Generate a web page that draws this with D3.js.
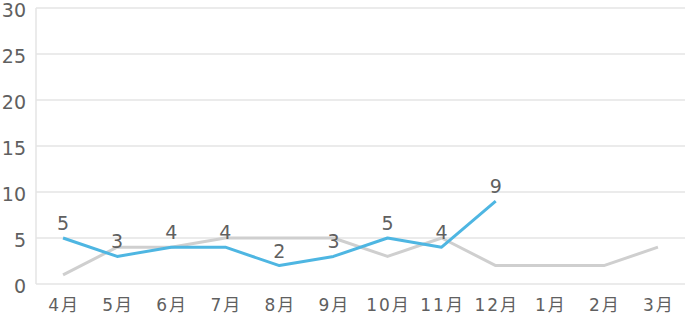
<!DOCTYPE html>
<html>
<head>
<meta charset="utf-8">
<script src="https://cdn.jsdelivr.net/npm/d3@7"></script>
<style>
  body { margin: 0; background: #fff; }
  text { font-family: "DejaVu Sans", "Noto Sans CJK JP", sans-serif; fill: #606060; }
</style>
</head>
<body>
<div id="chart"></div>
<script>
// data
const months = ['4月', '5月', '6月', '7月', '8月', '9月', '10月', '11月', '12月', '1月', '2月', '3月'];
const lastYear = [1, 4, 4, 5, 5, 5, 3, 5, 2, 2, 2, 4];
const thisYear = [5, 3, 4, 4, 2, 3, 5, 4, 9];
const yTicks = [0, 5, 10, 15, 20, 25, 30];

const width = 685, height = 323;
const margin = { top: 8, right: 0, bottom: 39, left: 36 };

const svg = d3.select('#chart')
    .append('svg')
    .attr('width', width)
    .attr('height', height);

const x = d3.scaleBand()
    .domain(months)
    .range([margin.left, width - margin.right]);

const y = d3.scaleLinear()
    .domain([0, 30])
    .range([height - margin.bottom, margin.top]);

// gridlines
svg.append('g')
    .selectAll('line')
    .data(yTicks)
    .enter()
    .append('line')
    .attr('x1', margin.left)
    .attr('x2', width - margin.right)
    .attr('y1', d => y(d))
    .attr('y2', d => y(d))
    .attr('stroke', '#e4e4e4')
    .attr('stroke-width', 1.5);

svg.append('line')
    .attr('x1', margin.left).attr('x2', margin.left)
    .attr('y1', y(30)).attr('y2', y(0))
    .attr('stroke', '#e4e4e4')
    .attr('stroke-width', 1.5);

// y labels
svg.append('g')
    .selectAll('text')
    .data(yTicks)
    .enter()
    .append('text')
    .attr('x', 26)
    .attr('y', d => y(d) + 2)
    .attr('dy', '0.36em')
    .attr('text-anchor', 'end')
    .style('font-size', '19px')
    .text(d => d);

// x labels
svg.append('g')
    .selectAll('text')
    .data(months)
    .enter()
    .append('text')
    .attr('x', d => x(d) + x.bandwidth() / 2 + 1)
    .attr('y', 305)
    .attr('dy', '0.36em')
    .attr('text-anchor', 'middle')
    .style('font-size', '17px')
    .style('letter-spacing', '2px')
    .text(d => d);

const line = d3.line()
    .x((d, i) => x(months[i]) + x.bandwidth() / 2)
    .y(d => y(d));

svg.append('path')
    .datum(lastYear)
    .attr('fill', 'none')
    .attr('stroke', '#cfcfcf')
    .attr('stroke-width', 3)
    .attr('stroke-linejoin', 'round')
    .attr('d', line);

svg.append('path')
    .datum(thisYear)
    .attr('fill', 'none')
    .attr('stroke', '#4eb6e2')
    .attr('stroke-width', 3)
    .attr('stroke-linejoin', 'round')
    .attr('d', line);

// value labels
svg.append('g')
    .selectAll('text')
    .data(thisYear)
    .enter()
    .append('text')
    .attr('x', (d, i) => x(months[i]) + x.bandwidth() / 2)
    .attr('y', d => y(d) - 8)
    .attr('text-anchor', 'middle')
    .style('font-size', '19px')
    .text(d => d);
</script>
</body>
</html>
